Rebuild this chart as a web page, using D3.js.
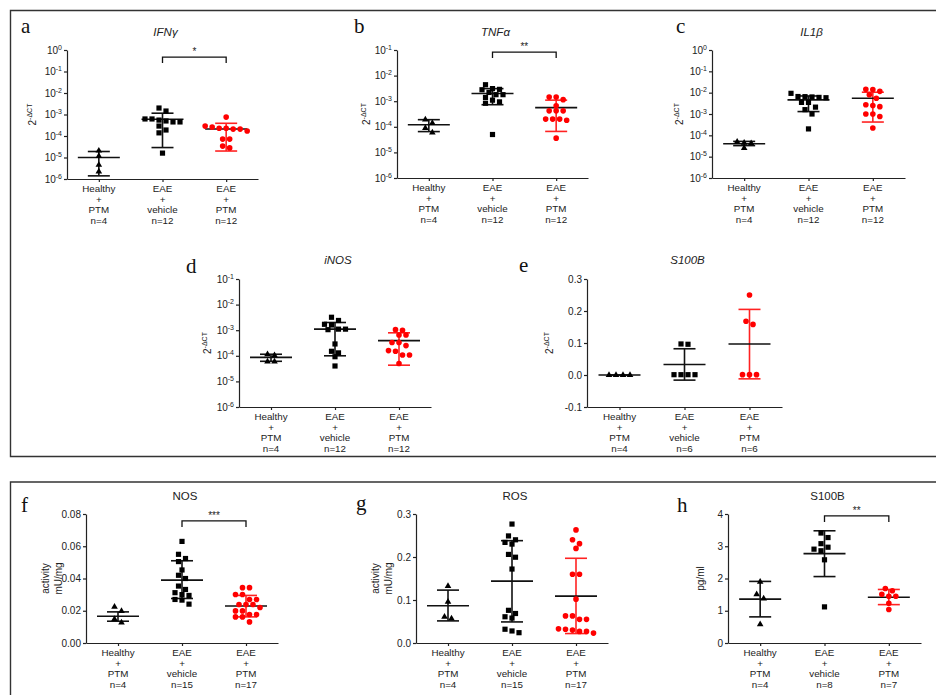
<!DOCTYPE html>
<html><head><meta charset="utf-8">
<script src="https://cdn.jsdelivr.net/npm/d3@7"></script>
<style>body{margin:0;background:#fff}text{font-family:"Liberation Sans",Arial,sans-serif;fill:#222}</style>
</head><body><svg id="c" width="936" height="695"></svg>
<script>
// ---------- DATA ----------
const groupLabels = [["Healthy","+","PTM"],["EAE","+","vehicle"],["EAE","+","PTM"]];

// a: IFNγ (2^-ΔCT)
const ifngHealthy = [2.07e-5, 1.17e-5, 4.5e-6, 2.2e-6];
const ifngVehicle = [2.0e-3, 1.45e-3, 6.2e-4, 5.0e-4, 4.5e-4, 4.5e-4, 5.5e-4, 6.2e-4, 2.9e-4, 1.9e-4, 1.4e-4, 1.6e-5];
const ifngPTM     = [7.6e-4, 2.9e-4, 2.3e-4, 2.1e-4, 1.7e-4, 2.1e-4, 2.3e-4, 2.6e-4, 7.2e-5, 7.2e-5, 2.8e-5, 3.4e-5];
const ifngMean = [1.0e-5, 6.0e-4, 2.1e-4];
const ifngLow  = [1.4e-6, 2.9e-5, 2.0e-5];
const ifngHigh = [1.9e-5, 1.15e-3, 3.9e-4];

// b: TNFα
const tnfHealthy = [1.9e-4, 1.4e-4, 9e-5, 6e-5];
const tnfVehicle = [4.4e-3, 3.1e-3, 2.9e-3, 2.8e-3, 2.2e-3, 1.8e-3, 1.8e-3, 1.4e-3, 1.1e-3, 9.4e-4, 8.3e-4, 5e-5];
const tnfPTM     = [1.45e-3, 1.45e-3, 1.15e-3, 6.6e-4, 4.2e-4, 4.2e-4, 4.2e-4, 2.0e-4, 2.0e-4, 2.0e-4, 1.8e-4, 3.6e-5];
const tnfMean = [1.2e-4, 2.0e-3, 5.6e-4];
const tnfLow  = [6.5e-5, 7.3e-4, 6.6e-5];
const tnfHigh = [1.9e-4, 3.1e-3, 1.1e-3];

// c: IL1β
const il1Healthy = [5.0e-5, 4.5e-5, 4.2e-5, 2.5e-5];
const il1Vehicle = [9.3e-3, 6.5e-3, 6.3e-3, 6.0e-3, 5.8e-3, 6.6e-3, 3.5e-3, 3.5e-3, 2.1e-3, 1.6e-3, 1.0e-3, 2.0e-4];
const il1PTM     = [1.45e-2, 1.4e-2, 1.15e-2, 8.0e-3, 5.5e-3, 2.7e-3, 2.2e-3, 2.5e-3, 1.0e-3, 1.0e-3, 7.6e-4, 2.2e-4];
const il1Mean = [4.0e-5, 4.6e-3, 5.5e-3];
const il1Low  = [3.3e-5, 1.3e-3, 4.2e-4];
const il1High = [5.2e-5, 7.0e-3, 1.05e-2];

// d: iNOS
const inosHealthy = [1.15e-4, 1.05e-4, 6e-5, 6e-5];
const inosVehicle = [3.2e-3, 2.4e-3, 1.6e-3, 1.7e-3, 1.1e-3, 1.05e-3, 1.1e-3, 2.9e-4, 1.3e-4, 1.5e-4, 9.2e-5, 4e-5];
const inosPTM     = [1.05e-3, 1.0e-3, 6.5e-4, 6.5e-4, 3.3e-4, 3.3e-4, 1.6e-4, 1.5e-4, 1.07e-4, 1.07e-4, 5e-5, 2.5e-4];
const inosMean = [8.7e-5, 1.1e-3, 3.9e-4];
const inosLow  = [6.1e-5, 1.0e-4, 4.3e-5];
const inosHigh = [1.15e-4, 2.0e-3, 7.9e-4];

// e: S100B (2^-ΔCT)
const s100Healthy = [0, 0, 0, 0];
const s100Vehicle = [0.097, 0.096, 0.001, 0.001, 0.001, 0.001];
const s100PTM     = [0.25, 0.168, 0.158, 0.001, 0.001, 0.001];
const s100Mean = [0, 0.033, 0.097];
const s100Low  = [0, -0.016, -0.012];
const s100High = [0, 0.082, 0.205];

// f: NOS activity
const nosHealthy = [0.0225, 0.0198, 0.0148, 0.0126];
const nosVehicle = [0.063, 0.055, 0.0524, 0.0505, 0.0453, 0.042, 0.040, 0.0353, 0.0332, 0.0312, 0.0295, 0.030, 0.027, 0.0266, 0.0241];
const nosPTM     = [0.0343, 0.0343, 0.0301, 0.0301, 0.027, 0.027, 0.0239, 0.0239, 0.0239, 0.0199, 0.0199, 0.0177, 0.0177, 0.0162, 0.0162, 0.0131, 0.022];
const nosMean = [0.0166, 0.039, 0.0229];
const nosLow  = [0.0135, 0.0276, 0.0162];
const nosHigh = [0.0193, 0.051, 0.0295];

// g: ROS activity
const rosHealthy = [0.1325, 0.0958, 0.061, 0.057];
const rosVehicle = [0.2766, 0.249, 0.240, 0.234, 0.23, 0.206, 0.1995, 0.172, 0.076, 0.0686, 0.061, 0.058, 0.032, 0.028, 0.024];
const rosPTM     = [0.263, 0.24, 0.231, 0.22, 0.16, 0.16, 0.102, 0.063, 0.063, 0.055, 0.055, 0.033, 0.032, 0.027, 0.027, 0.023, 0.03];
const rosMean = [0.0865, 0.144, 0.109];
const rosLow  = [0.0514, 0.049, 0.022];
const rosHigh = [0.123, 0.238, 0.197];

// h: S100B protein (pg/ml)
const sbHealthy = [1.90, 1.51, 1.38, 0.58];
const sbVehicle = [3.41, 3.27, 3.08, 2.97, 2.86, 2.91, 2.58, 1.12];
const sbPTM     = [1.69, 1.62, 1.51, 1.45, 1.45, 1.23, 1.04];
const sbMean = [1.36, 2.77, 1.42];
const sbLow  = [0.81, 2.06, 1.19];
const sbHigh = [1.91, 3.48, 1.66];

// tick labels
const logExpA = [-6,-5,-4,-3,-2,-1,0];
const logExpB = [-6,-5,-4,-3,-2,-1];
const ticksE = [-0.1, 0, 0.1, 0.2, 0.3];
const ticksELabels = ["-0.1","0.0","0.1","0.2","0.3"];
const ticksF = [0, 0.02, 0.04, 0.06, 0.08];
const ticksFLabels = ["0.00","0.02","0.04","0.06","0.08"];
const ticksG = [0, 0.1, 0.2, 0.3];
const ticksGLabels = ["0.0","0.1","0.2","0.3"];
const ticksH = [0, 1, 2, 3, 4];
const ticksHLabels = ["0","1","2","3","4"];

// ---------- LAYOUT ----------
const panels = [
 {letter:"a", lx:21, ly:33, title:"IFNγ", italic:true, ty:36, x:67, top:50, bottom:179, w:191, type:"log", exps:logExpA,
  groups:[ifngHealthy,ifngVehicle,ifngPTM], mean:ifngMean, lo:ifngLow, hi:ifngHigh, ylab:"dct", ylx:33, sig:{label:"*", v:0.47}},
 {letter:"b", lx:354, ly:33, title:"TNFα", italic:true, ty:36, x:397, top:50, bottom:178, w:191, type:"log", exps:logExpB,
  groups:[tnfHealthy,tnfVehicle,tnfPTM], mean:tnfMean, lo:tnfLow, hi:tnfHigh, ylab:"dct", ylx:367, sig:{label:"**", v:0.083}},
 {letter:"c", lx:676, ly:33, title:"IL1β", italic:true, ty:36, x:712, top:50, bottom:178, w:193, type:"log", exps:logExpA,
  groups:[il1Healthy,il1Vehicle,il1PTM], mean:il1Mean, lo:il1Low, hi:il1High, ylab:"dct", ylx:680},
 {letter:"d", lx:186, ly:273, title:"iNOS", italic:true, ty:264, x:239, top:279, bottom:407, w:192, type:"log", exps:logExpB,
  groups:[inosHealthy,inosVehicle,inosPTM], mean:inosMean, lo:inosLow, hi:inosHigh, ylab:"dct", ylx:208},
 {letter:"e", lx:519, ly:272, title:"S100B", italic:true, ty:264, x:587, top:279, bottom:407, w:195, type:"lin", domain:[-0.1,0.3], ticks:ticksE, tickLabels:ticksELabels,
  groups:[s100Healthy,s100Vehicle,s100PTM], mean:s100Mean, lo:s100Low, hi:s100High, ylab:"dct", ylx:550},
 {letter:"f", lx:21, ly:512, title:"NOS", italic:false, ty:500, x:86, top:514, bottom:643, w:192, type:"lin", domain:[0,0.08], ticks:ticksF, tickLabels:ticksFLabels,
  groups:[nosHealthy,nosVehicle,nosPTM], mean:nosMean, lo:nosLow, hi:nosHigh, ylab:"act", ylx:[45,58], sig:{label:"***", v:0.0757}},
 {letter:"g", lx:356, ly:510, title:"ROS", italic:false, ty:500, x:416, top:514, bottom:643, w:192, type:"lin", domain:[0,0.3], ticks:ticksG, tickLabels:ticksGLabels,
  groups:[rosHealthy,rosVehicle,rosPTM], mean:rosMean, lo:rosLow, hi:rosHigh, ylab:"act", ylx:[375,388]},
 {letter:"h", lx:677, ly:512, title:"S100B", italic:false, ty:500, x:728, top:514, bottom:643, w:193, type:"lin", domain:[0,4], ticks:ticksH, tickLabels:ticksHLabels,
  groups:[sbHealthy,sbVehicle,sbPTM], mean:sbMean, lo:sbLow, hi:sbHigh, ylab:"pg", ylx:700, sig:{label:"**", v:3.94}}
];

const svg = d3.select("#c");
// frames
svg.append("path").attr("d","M960,10.5 H10.5 V456.5 H960").attr("fill","none").attr("stroke","#333").attr("stroke-width",1.4);
svg.append("path").attr("d","M10.5,720 V482 H960").attr("fill","none").attr("stroke","#333").attr("stroke-width",1.4);

function swarm(pys, s, d, tol){
  const idx = pys.map((y,i)=>i).sort((a,b)=>pys[a]-pys[b]);
  const placed=[], out=new Array(pys.length);
  let i=0;
  while(i<idx.length){
    const row=[idx[i]]; let j=i+1;
    while(j<idx.length && pys[idx[j]]-pys[idx[i]]<tol){row.push(idx[j]); j++;}
    const n=row.length;
    const shifts=[0,s/2,-s/2,s,-s,1.5*s,-1.5*s,2*s,-2*s];
    let best=0;
    for(const sh of shifts){
      let ok=true;
      row.forEach((k,m)=>{const x=(m-(n-1)/2)*s+sh; for(const p of placed){ if(Math.hypot(p.x-x,p.y-pys[k])<d) ok=false;}});
      if(ok){best=sh;break;}
    }
    row.forEach((k,m)=>{const x=(m-(n-1)/2)*s+best; out[k]=x; placed.push({x,y:pys[k]});});
    i=j;
  }
  return out;
}

const symbols=[d3.symbol().type(d3.symbolTriangle).size(19), d3.symbol().type(d3.symbolSquare).size(27), d3.symbol().type(d3.symbolCircle).size(25)];
const fills=["#000","#000","#f00"];
const barCol=["#111","#111","#f22"];

panels.forEach(P=>{
  const g = svg.append("g");
  const y = P.type==="log" ? d3.scaleLog().domain([1e-6, Math.pow(10, d3.max(P.exps))]).range([P.bottom,P.top])
                           : d3.scaleLinear().domain(P.domain).range([P.bottom,P.top]);
  const xs = d3.scalePoint().domain([0,1,2]).range([P.x, P.x+P.w]).padding(0.5);

  svg.append("text").attr("x",P.lx).attr("y",P.ly).text(P.letter)
     .style("font-family","'Liberation Serif','Times New Roman',serif").style("font-size","21px").style("fill","#111");
  svg.append("text").attr("x",xs(1)+3).attr("y",P.ty).attr("text-anchor","middle").text(P.title)
     .style("font-size","11.5px").style("font-style",P.italic?"italic":"normal");

  const tv = P.type==="log" ? P.exps.map(e=>Math.pow(10,e)) : P.ticks;
  const ya = g.append("g").attr("transform",`translate(${P.x},0)`)
     .call(d3.axisLeft(y).tickValues(tv).tickSize(3).tickSizeOuter(0).tickFormat(""));
  ya.selectAll("path,line").attr("stroke","#222").attr("stroke-width",1.2);
  tv.forEach((v,i)=>{
    const t = g.append("text").attr("x",P.x-5).attr("y",y(v)+3.5).attr("text-anchor","end").style("font-size","10px");
    if(P.type==="log"){
      t.append("tspan").text("10");
      t.append("tspan").attr("dy",-4).style("font-size","7px").text(String(P.exps[i]));
    } else t.text(P.tickLabels[i]);
  });
  const xa = g.append("g").attr("transform",`translate(0,${P.bottom})`)
     .call(d3.axisBottom(xs).tickSize(3).tickSizeOuter(0).tickFormat(""));
  xa.selectAll("path,line").attr("stroke","#222").attr("stroke-width",1.2);
  [0,1,2].forEach(k=>{
    const lines = groupLabels[k].concat(["n="+P.groups[k].length]);
    lines.forEach((s,li)=>g.append("text").attr("x",xs(k)).attr("y",P.bottom+13+li*10.5)
       .attr("text-anchor","middle").style("font-size","9.8px").text(s));
  });

  const cy=(P.top+P.bottom)/2;
  if(P.ylab==="dct"){
    const t=g.append("text").attr("transform",`translate(${P.ylx+3},${cy}) rotate(-90)`).attr("text-anchor","middle").style("font-size","10px");
    t.append("tspan").text("2");
    t.append("tspan").attr("dy",-4).style("font-size","7px").text("-ΔCT");
  } else if(P.ylab==="act"){
    ["activity","mU/mg"].forEach((s,i)=>g.append("text").attr("transform",`translate(${P.ylx[i]+3.5},${cy}) rotate(-90)`)
      .attr("text-anchor","middle").style("font-size","10px").text(s));
  } else {
    g.append("text").attr("transform",`translate(${P.ylx+3.5},${cy}) rotate(-90)`).attr("text-anchor","middle").style("font-size","10px").text("pg/ml");
  }

  [0,1,2].forEach(k=>{
    const cx=xs(k), col=barCol[k];
    g.append("line").attr("x1",cx).attr("x2",cx).attr("y1",y(P.hi[k])).attr("y2",y(P.lo[k])).attr("stroke",col).attr("stroke-width",1.6);
    [P.hi[k],P.lo[k]].forEach(v=>g.append("line").attr("x1",cx-11).attr("x2",cx+11).attr("y1",y(v)).attr("y2",y(v)).attr("stroke",col).attr("stroke-width",1.6));
    g.append("line").attr("x1",cx-21).attr("x2",cx+21).attr("y1",y(P.mean[k])).attr("y2",y(P.mean[k])).attr("stroke","#111").attr("stroke-width",1.6);
  });
  [0,1,2].forEach(k=>{
    const vals=P.groups[k];
    const pys=vals.map(v=>y(v));
    const off=swarm(pys,7,5,5);
    g.selectAll(null).data(vals).enter().append("path")
      .attr("d",symbols[k]).attr("fill",fills[k])
      .attr("transform",(v,i)=>`translate(${xs(k)+off[i]},${pys[i]})`);
  });
  if(P.sig){
    const by=y(P.sig.v), x1=xs(1), x2=xs(2);
    g.append("path").attr("d",`M${x1},${by+6}V${by}H${x2}V${by+6}`).attr("fill","none").attr("stroke","#111").attr("stroke-width",1.3);
    g.append("text").attr("x",(x1+x2)/2).attr("y",by-2).attr("text-anchor","middle").style("font-size","10px").text(P.sig.label);
  }
});
</script></body></html>
